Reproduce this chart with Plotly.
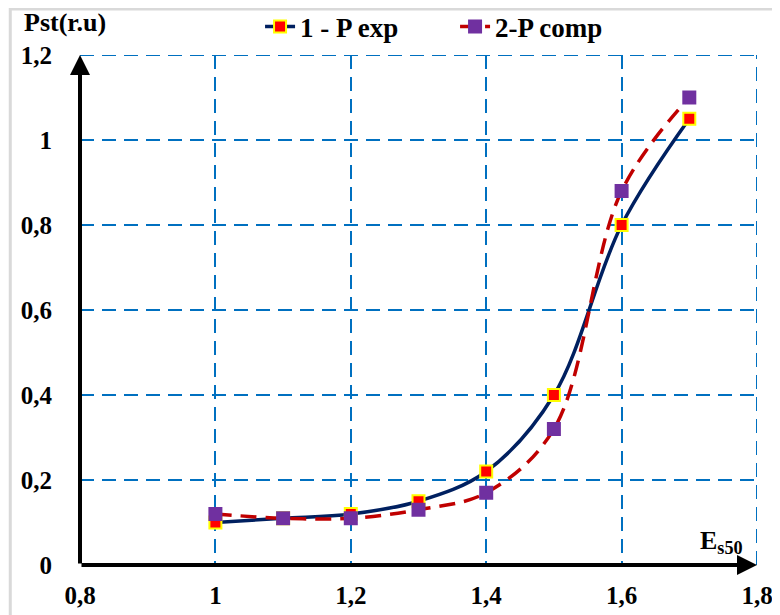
import plotly.graph_objects as go

# Data
x_exp = [1.0, 1.1, 1.2, 1.3, 1.4, 1.5, 1.6, 1.7]
p_exp = [0.10, 0.11, 0.12, 0.15, 0.22, 0.40, 0.80, 1.05]
x_comp = [1.0, 1.1, 1.2, 1.3, 1.4, 1.5, 1.6, 1.7]
p_comp = [0.12, 0.11, 0.11, 0.13, 0.17, 0.32, 0.88, 1.10]

x_tickvals = [0.8, 1.0, 1.2, 1.4, 1.6, 1.8]
x_ticktext = ["0,8", "1", "1,2", "1,4", "1,6", "1,8"]
y_tickvals = [0, 0.2, 0.4, 0.6, 0.8, 1.0, 1.2]
y_ticktext = ["0", "0,2", "0,4", "0,6", "0,8", "1", "1,2"]

serif = "Liberation Serif"
gridcol = "#0070C0"
dashpat = "14px,8px"

fig = go.Figure()
fig.add_trace(go.Scatter(
    x=x_exp, y=p_exp, name="<b>1 - P exp</b>", mode="lines+markers",
    line=dict(color="#002060", width=3.5, shape="spline", smoothing=1.0),
    marker=dict(symbol="square", size=12, color="#FF0000",
                line=dict(color="#FFFF00", width=2)),
))
fig.add_trace(go.Scatter(
    x=x_comp, y=p_comp, name="<b>2-P comp</b>", mode="lines+markers",
    line=dict(color="#C00000", width=3.5, shape="spline", smoothing=1.0, dash="16px,9px"),
    marker=dict(symbol="square", size=14, color="#7030A0",
                line=dict(color="#7030A0", width=0)),
))

grid = dict(showgrid=True, gridcolor=gridcol, gridwidth=2, griddash=dashpat,
            zeroline=False, showline=False, ticks="", automargin=False,
            tickfont=dict(family=serif, size=25, color="black"))

fig.update_xaxes(range=[0.8, 1.8], tickvals=x_tickvals, ticktext=[f"<b>{t}</b>" for t in x_ticktext],
                 ticklabelstandoff=13, **grid)
fig.update_yaxes(range=[0, 1.2], tickvals=y_tickvals, ticktext=[f"<b>{t}</b>" for t in y_ticktext],
                 ticklabelstandoff=27, **grid)

# edge grid lines (top and right)
fig.add_shape(type="line", xref="x", yref="y", x0=0.8, x1=1.8, y0=1.2, y1=1.2,
              line=dict(color=gridcol, width=2, dash=dashpat), layer="below")
fig.add_shape(type="line", xref="x", yref="y", x0=1.8, x1=1.8, y0=0, y1=1.2,
              line=dict(color=gridcol, width=2, dash=dashpat), layer="below")

# axis arrows
fig.add_annotation(x=1.8, y=0, ax=0.8, ay=0, xref="x", yref="y", axref="x", ayref="y",
                   showarrow=True, arrowhead=2, arrowsize=1, arrowwidth=4, arrowcolor="black", text="")
fig.add_annotation(x=0.8, y=1.2, ax=0.8, ay=0, xref="x", yref="y", axref="x", ayref="y",
                   showarrow=True, arrowhead=2, arrowsize=1, arrowwidth=4, arrowcolor="black", text="")

fig.add_annotation(x=-0.022, y=1.064, xref="paper", yref="paper", showarrow=False,
                   xanchor="center", yanchor="middle",
                   text="<b>Pst(r.u)</b>", font=dict(family=serif, size=26, color="black"))
fig.add_annotation(x=0.947, y=0.045, xref="paper", yref="paper", showarrow=False,
                   xanchor="center", yanchor="middle",
                   text="<b>E<sub>s50</sub></b>", font=dict(family=serif, size=26, color="black"))

# outer grey frame
fig.add_shape(type="rect", xref="paper", yref="paper", x0=-0.103, y0=-0.3, x1=1.3, y1=1.090,
              line=dict(color="#D9D9D9", width=3), layer="below")

fig.update_layout(
    width=772, height=607,
    margin=dict(l=72, r=23, t=47, b=50, autoexpand=False),
    plot_bgcolor="white", paper_bgcolor="white",
    showlegend=True,
    legend=dict(orientation="h", x=0.554, xanchor="center", y=1.055, yanchor="middle",
                font=dict(family=serif, size=27, color="black"), bgcolor="rgba(0,0,0,0)",
                entrywidth=150),
)

fig.write_html("out.html")
